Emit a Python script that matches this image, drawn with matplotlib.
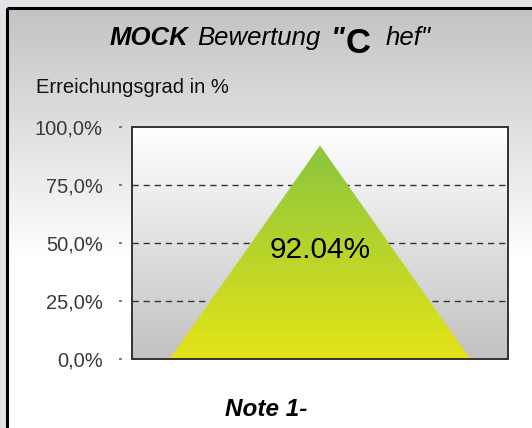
import numpy as np
import matplotlib
matplotlib.use("Agg")
import matplotlib.pyplot as plt
from matplotlib.patches import Rectangle
from matplotlib.colors import LinearSegmentedColormap

plt.rcParams['font.family'] = ['Liberation Sans', 'DejaVu Sans']

# ---- data ----
categories = [0, 1, 2]
values = [0.0, 92.04, 0.0]
peak_label = "92.04%"
yticks = [0, 25, 50, 75, 100]
ytick_labels = ["0,0%", "25,0%", "50,0%", "75,0%", "100,0%"]
y_title = "Erreichungsgrad in %"
note_text = "Note 1-"

W, H = 532, 428
DPI = 100
fig = plt.figure(figsize=(W / DPI, H / DPI), dpi=DPI)
fig.patch.set_facecolor('#e3e3e7')

# ---- background panel (pixel coordinates) ----
bg = fig.add_axes([0, 0, 1, 1], zorder=0)
ys = np.linspace(0, 1, 256)
top_c = np.array([0.765, 0.765, 0.765])
grad = np.clip(ys / 0.6, 0, 1)[:, None] * (1 - top_c) + top_c
img = np.repeat(grad[:, None, :], 2, axis=1)
bg.imshow(img, extent=[7, W + 5, H, 8], aspect='auto', zorder=1)
bg.add_patch(Rectangle((7, 8), W, H, fill=False, ec='black', lw=2.2, zorder=2))
bg.set_xlim(0, W)
bg.set_ylim(H, 0)
bg.axis('off')

# ---- titles ----
def px(x, y):
    return x / W, 1 - y / H

fig.text(*px(110, 45), "MOCK", fontsize=18.5, fontweight='bold', style='italic',
         ha='left', va='baseline')
fig.text(*px(197, 45), "Bewertung", fontsize=18.5, style='italic', ha='left', va='baseline')
fig.text(*px(331, 47), '"', fontsize=21, fontweight='bold', style='italic',
         ha='left', va='baseline')
fig.text(*px(346, 53), 'C', fontsize=25, fontweight='bold', ha='left', va='baseline')
fig.text(*px(386, 45), 'hef"', fontsize=18.5, style='italic', ha='left', va='baseline')
fig.text(*px(36, 93), y_title, fontsize=14.5, color='#111111', ha='left', va='baseline')
fig.text(*px(266, 416), note_text, fontsize=17.5, fontweight='bold', style='italic',
         ha='center', va='baseline')

# ---- main axes ----
L, R, T, B = 132, 508, 127, 359
ax = fig.add_axes([L / W, 1 - B / H, (R - L) / W, (B - T) / H], zorder=2)
ax.set_xlim(-0.25, 2.25)
ax.set_ylim(0, 100)

# plot area gradient (white top -> gray bottom)
pa = np.linspace(1.0, 0.76, 256)
pimg = np.repeat(np.stack([pa, pa, pa], axis=1)[:, None, :], 2, axis=1)
ax.imshow(pimg, extent=[-0.25, 2.25, 0, 100], aspect='auto', zorder=0)

# gridlines
for v in [25, 50, 75]:
    ax.axhline(v, color='#333333', lw=1.0, ls=(0, (4.5, 3.5)), zorder=1)

# triangle with vertical gradient
poly = ax.fill(categories, values, facecolor='none', edgecolor='none', zorder=2)[0]
cmap = LinearSegmentedColormap.from_list('g', ['#e4e418', '#8bc53f'])
tg = np.linspace(0, 1, 256)[:, None]
im = ax.imshow(tg, extent=[min(categories), max(categories), 0, max(values)],
               origin='lower', cmap=cmap, aspect='auto', zorder=2)
im.set_clip_path(poly)

ax.text(categories[1], 47, peak_label, fontsize=21.5, ha='center', va='center',
        color='black', zorder=4)

# axes styling
for s in ax.spines.values():
    s.set_visible(False)
ax.spines['left'].set_position(('outward', 7.2))
ax.set_yticks(yticks)
ax.set_yticklabels(ytick_labels)
ax.tick_params(axis='y', direction='out', length=2.2, width=1.2, color='#666666',
               pad=11.5, labelsize=14.5, labelcolor='#3a3a3a')
ax.set_xticks([])
ax.add_patch(Rectangle((0, 0), 1, 1, transform=ax.transAxes, fill=False,
                       ec='#333333', lw=1.4, clip_on=False, zorder=5))

fig.savefig('out.png', dpi=DPI)
